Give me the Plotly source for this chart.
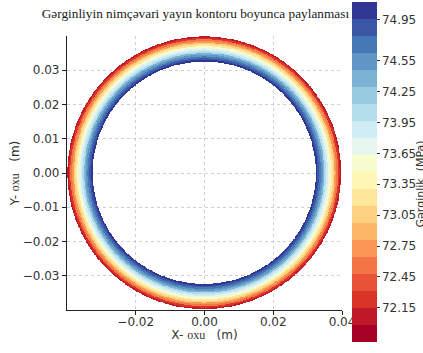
import numpy as np
import plotly.graph_objects as go
from plotly.colors import sample_colorscale

# ---- data ----
# radial band edges (m), from inner edge to outer edge of the ring
ring_edges = [0.0325, 0.0330, 0.0335, 0.0340, 0.0345, 0.0350, 0.0355, 0.0360,
              0.0365, 0.0370, 0.0375, 0.0380, 0.0385, 0.0390, 0.0395, 0.0399]
# stress in each band (MPa), inner -> outer
band_stress = [75.05, 74.85, 74.70, 74.50, 74.30, 74.10, 73.90, 73.70,
               73.50, 73.30, 73.05, 72.80, 72.55, 72.30, 72.05]
cbar_ticks = [72.15, 72.45, 72.75, 73.05, 73.35, 73.65, 73.95, 74.25, 74.55, 74.95]
cbar_ticktext = ["72.15", "72.45", "72.75", "73.05", "73.35", "73.65", "73.95", "74.25", "74.55", "74.95"]
x_ticks = [-0.02, 0.00, 0.02, 0.04]
x_ticktext = ["−0.02", "0.00", "0.02", "0.04"]
y_ticks = [-0.03, -0.02, -0.01, 0.00, 0.01, 0.02, 0.03]
y_ticktext = ["−0.03", "−0.02", "−0.01", "0.00", "0.01", "0.02", "0.03"]

cmin, cmax = 71.82, 75.12
n_levels = 20

# grid sampling the bands
n = 600
g = np.linspace(-0.04, 0.04, n)
X, Y = np.meshgrid(g, g)
R = np.sqrt(X**2 + Y**2)
idx = np.searchsorted(ring_edges, R) - 1
inside = (R >= ring_edges[0]) & (R <= ring_edges[-1])
idx = np.clip(idx, 0, len(band_stress) - 1)
Z = np.where(inside, np.array(band_stress)[idx], np.nan)

# discrete RdYlBu colorscale (contourf look)
cols = sample_colorscale("RdYlBu", [i / (n_levels - 1) for i in range(n_levels)])
cs = []
for i, c in enumerate(cols):
    cs.append([i / n_levels, c])
    cs.append([(i + 1) / n_levels, c])

fig = go.Figure()
fig.add_trace(go.Heatmap(
    x=g, y=g, z=Z, colorscale=cs, zmin=cmin, zmax=cmax, zsmooth=False,
    hoverongaps=False,
    colorbar=dict(
        x=1.0 + 10 / 275, xanchor="left", xpad=0, ypad=0,
        y=0.504, yanchor="middle",
        lenmode="pixels", len=340, thickness=25, outlinewidth=0,
        tickvals=cbar_ticks, ticktext=cbar_ticktext,
        ticks="outside", ticklen=3, tickcolor="#333",
        tickfont=dict(family="DejaVu Sans", size=12, color="#333"),
    ),
))

axis_common = dict(
    range=[-0.04, 0.04],
    showgrid=True, gridcolor="rgba(170,170,170,0.55)", griddash="dot", gridwidth=1,
    zeroline=False, showline=True, linecolor="#222", linewidth=1.2,
    ticks="outside", ticklen=4, tickcolor="#222",
    tickfont=dict(family="DejaVu Sans", size=12, color="#333"),
    layer="above traces",
)

fig.update_layout(
    width=423, height=353,
    margin=dict(l=67, r=81, t=36, b=43, autoexpand=False),
    paper_bgcolor="white", plot_bgcolor="white",
    title=dict(text="Gərginliyin nimçəvari yayın kontoru boyunca paylanması",
               x=0.462, xanchor="center", y=0.962, yanchor="middle", yref="container",
               font=dict(family="Liberation Serif", size=13.3, color="#222")),
    xaxis=dict(axis_common, tickvals=x_ticks, ticktext=x_ticktext, ticklabelstandoff=-4,
               title=dict(text='X- <span style="font-family:Liberation Serif">oxu</span>   (m)',
                          standoff=2, font=dict(family="DejaVu Sans", size=12, color="#333"))),
    yaxis=dict(axis_common, tickvals=y_ticks, ticktext=y_ticktext,
               title=dict(text='Y- <span style="font-family:Liberation Serif">oxu</span>   (m)',
                          standoff=0, font=dict(family="DejaVu Sans", size=12, color="#333"))),
    annotations=[dict(
        text="Gərginlik  (MPa)", xref="paper", yref="paper",
        x=1.0 + (412 - 342) / 275, y=0.46, xanchor="left", yanchor="middle",
        textangle=-90, showarrow=False,
        font=dict(family="DejaVu Sans", size=11, color="#333"),
    )],
)

fig.write_html("out.html", config={"displayModeBar": False},
               post_script="document.body.style.margin='0px';document.body.style.overflow='hidden';")
